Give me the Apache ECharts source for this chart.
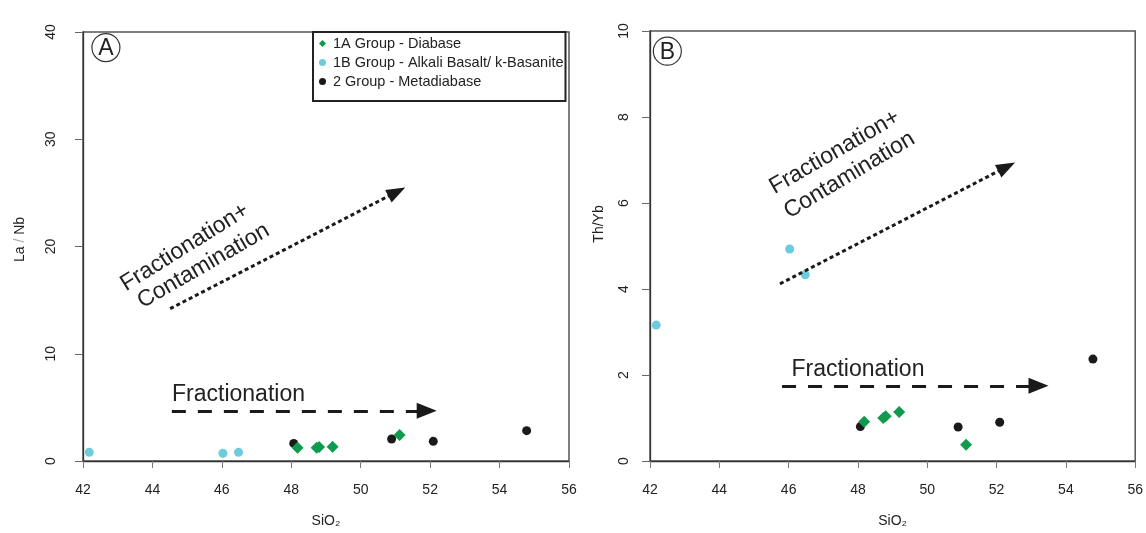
<!DOCTYPE html>
<html><head><meta charset="utf-8">
<script src="https://cdn.jsdelivr.net/npm/echarts@6/dist/echarts.min.js"></script>
<style>html,body{margin:0;padding:0;background:#fff}#c{width:1146px;height:533px}</style>
</head><body><div id="c"></div><script>
// ---- data ----
const xTicks = [42, 44, 46, 48, 50, 52, 54, 56];
const laNbTicks = [0, 10, 20, 30, 40];
const thYbTicks = [0, 2, 4, 6, 8, 10];
const seriesNames = ['1A Group - Diabase', '1B Group - Alkali Basalt/ k-Basanite', '2 Group - Metadiabase'];

const g1A_SiO2 = [48.18, 48.73, 48.80, 49.19, 51.12];
const g1A_LaNb = [1.24, 1.24, 1.30, 1.34, 2.42];
const g1A_ThYb = [0.91, 1.0, 1.04, 1.14, 0.38];

const g1B_SiO2 = [42.18, 46.03, 46.48];
const g1B_LaNb = [0.81, 0.72, 0.81];
const g1B_ThYb = [3.16, 4.93, 4.33];

const g2_SiO2 = [48.07, 50.89, 52.09, 54.78];
const g2_LaNb = [1.64, 2.05, 1.83, 2.83];
const g2_ThYb = [0.80, 0.79, 0.90, 2.37];

// trend arrows [x1, y1, x2, y2] in data units
const arrowA_FC = [44.51, 14.2, 51.04, 25.1];
const arrowA_F = [44.56, 4.68, 51.9, 4.68];
const arrowB_FC = [45.75, 4.12, 52.29, 6.84];
const arrowB_F = [45.81, 1.75, 53.21, 1.75];

// annotation anchors (data units)
const textA_F = [46.48, 6.19];
const textA_FC1 = [43.14, 16.3];
const textA_FC2 = [43.62, 14.72];
const textB_F = [48.0, 2.13];
const textB_FC1 = [45.5, 6.33];
const textB_FC2 = [45.92, 5.76];
const labelA = [42.66, 38.55];
const labelB = [42.5, 9.53];

const GREEN = '#0f9b4e', CYAN = '#6ccbdc', BLACK = '#1a1a1a';
const FONT = '"Liberation Sans", Arial, sans-serif';

function pts(xs, ys) { return xs.map((x, i) => [x, ys[i]]); }

function xAxis(gi) {
  return {
    type: 'value', gridIndex: gi, min: 42, max: 56, interval: 2,
    name: 'SiO₂', nameLocation: 'middle', nameGap: 53,
    nameTextStyle: { fontFamily: FONT, fontSize: 14, color: '#222' },
    axisLine: { onZero: false, lineStyle: { color: '#333', width: 1.3 } },
    axisTick: { show: true, length: 7, lineStyle: { color: '#777' } },
    axisLabel: { fontFamily: FONT, fontSize: 14, color: '#222', margin: 22 },
    splitLine: { show: false }
  };
}
function yAxis(gi, max, interval, name, margin, gap, pad) {
  return {
    type: 'value', gridIndex: gi, min: 0, max: max, interval: interval,
    name: name, nameLocation: 'middle', nameGap: gap,
    nameTextStyle: { fontFamily: FONT, fontSize: 14, color: '#222', padding: pad,
      rich: { s: { color: '#aaa', fontSize: 14, fontFamily: FONT } } },
    axisLine: { onZero: false, lineStyle: { color: '#333', width: 1.3 } },
    axisTick: { show: true, length: 8, lineStyle: { color: '#666' } },
    axisLabel: { fontFamily: FONT, fontSize: 14, color: '#222', rotate: 90, margin: margin },
    splitLine: { show: false }
  };
}
function arrowLine(a, type, w, size) {
  return [{ coord: [a[0], a[1]], symbol: 'none',
            lineStyle: { type: type, width: w, color: BLACK } },
          { coord: [a[2], a[3]], symbol: 'triangle', symbolSize: size }];
}

const chart = echarts.init(document.getElementById('c'), null, { renderer: 'canvas' });

const series = [];
[0, 1].forEach(gi => {
  const ys2 = gi === 0 ? g2_LaNb : g2_ThYb;
  const ys1A = gi === 0 ? g1A_LaNb : g1A_ThYb;
  const ys1B = gi === 0 ? g1B_LaNb : g1B_ThYb;
  series.push({ name: seriesNames[2], type: 'scatter', xAxisIndex: gi, yAxisIndex: gi,
    symbol: 'circle', symbolSize: 9, itemStyle: { color: BLACK, opacity: 1 }, data: pts(g2_SiO2, ys2), z: 3 });
  series.push({ name: seriesNames[0], type: 'scatter', xAxisIndex: gi, yAxisIndex: gi,
    symbol: 'diamond', symbolSize: 12, itemStyle: { color: GREEN, opacity: 1 }, data: pts(g1A_SiO2, ys1A), z: 4 });
  series.push({ name: seriesNames[1], type: 'scatter', xAxisIndex: gi, yAxisIndex: gi,
    symbol: 'circle', symbolSize: 9, itemStyle: { color: CYAN, opacity: 1 }, data: pts(g1B_SiO2, ys1B), z: 4 });
  const fc = gi === 0 ? arrowA_FC : arrowB_FC;
  const f = gi === 0 ? arrowA_F : arrowB_F;
  series.push({ name: 'arrows' + gi, type: 'line', xAxisIndex: gi, yAxisIndex: gi, data: [],
    silent: true, z: 2,
    markLine: { silent: true, animation: false, label: { show: false },
      itemStyle: { color: BLACK },
      emphasis: { disabled: true },
      data: [arrowLine(fc, [4, 3], 3, [14, 19]), arrowLine(f, [14, 12], 3, [16, 20])] } });
});

chart.setOption({
  animation: false,
  backgroundColor: '#fff',
  grid: [
    { left: 83, top: 32, width: 486, height: 431, show: true, borderColor: '#555', borderWidth: 1.5, backgroundColor: 'transparent' },
    { left: 650, top: 31, width: 486, height: 432, show: true, borderColor: '#555', borderWidth: 1.5, backgroundColor: 'transparent' }
  ],
  xAxis: [xAxis(0), xAxis(1)],
  yAxis: [
    yAxis(0, 40, 10, 'La {s|/} Nb', 25, 56, [0, 0, 0, 14]),
    yAxis(1, 10, 2, 'Th/Yb', 19, 44, [0, 0, 0, 44])
  ],
  legend: {
    data: [
      { name: seriesNames[0], icon: 'diamond' },
      { name: seriesNames[1], icon: 'circle' },
      { name: seriesNames[2], icon: 'circle' }
    ],
    orient: 'vertical', left: 313, top: 32, itemWidth: 7, itemHeight: 7, itemGap: 0,
    padding: [2, 2, 10, 6], backgroundColor: '#fff', borderColor: '#222', borderWidth: 2,
    selectedMode: false,
    textStyle: { fontFamily: FONT, fontSize: 14.5, color: '#222', lineHeight: 19, padding: [0, 0, 0, 2] }
  },
  series: series
});

function px(gi, p) { return chart.convertToPixel({ gridIndex: gi }, p); }
function txt(gi, p, s, rotDeg, align) {
  const q = px(gi, p);
  return { type: 'text', x: q[0], y: q[1], rotation: rotDeg * Math.PI / 180, z: 10, silent: true,
    style: { text: s, fontFamily: FONT, fontSize: 23, fill: '#222', align: align || 'left', verticalAlign: 'middle' } };
}
function circLabel(gi, p, s) {
  const q = px(gi, p);
  return [
    { type: 'circle', shape: { cx: q[0], cy: q[1], r: 14 }, z: 10, silent: true,
      style: { fill: 'none', stroke: '#333', lineWidth: 1.2 } },
    { type: 'text', x: q[0], y: q[1] + 1, z: 11, silent: true,
      style: { text: s, fontFamily: FONT, fontSize: 23, fill: '#222', align: 'center', verticalAlign: 'middle' } }
  ];
}
chart.setOption({
  graphic: [
    txt(0, textA_F, 'Fractionation', 0, 'center'),
    txt(0, textA_FC1, 'Fractionation+', 32),
    txt(0, textA_FC2, 'Contamination', 30),
    txt(1, textB_F, 'Fractionation', 0, 'center'),
    txt(1, textB_FC1, 'Fractionation+', 30),
    txt(1, textB_FC2, 'Contamination', 31)
  ].concat(circLabel(0, labelA, 'A'), circLabel(1, labelB, 'B'))
});
</script></body></html>
